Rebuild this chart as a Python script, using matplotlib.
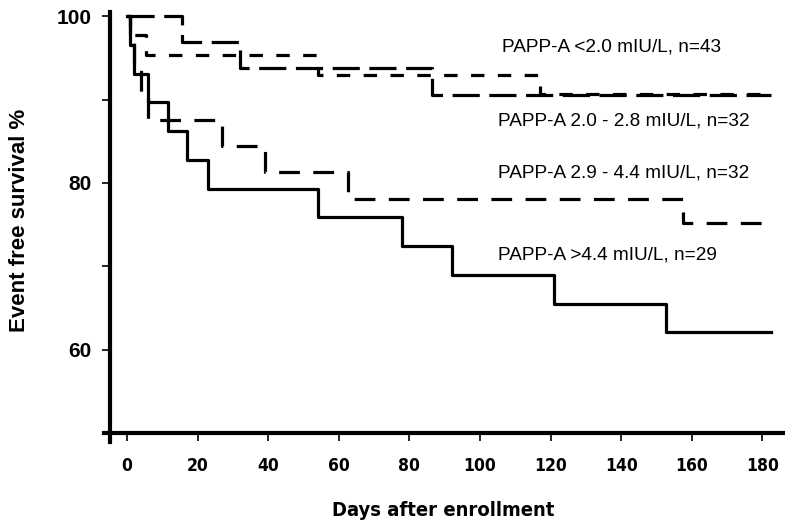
import matplotlib
matplotlib.use("Agg")
import matplotlib.pyplot as plt
from matplotlib import font_manager as fm

# ---- data ----
t_lt20 = [0, 1, 5.5, 54, 117, 182.4]
s_lt20 = [100, 97.7, 95.35, 93.0, 90.7, 90.7]

t_20_28 = [0, 15.6, 32, 86.5, 182.4]
s_20_28 = [100, 96.9, 93.75, 90.6, 90.6]

t_29_44 = [0, 1, 2, 4, 6, 27, 39, 62.5, 157.5, 182.4]
s_29_44 = [100, 96.9, 93.75, 90.6, 87.5, 84.4, 81.25, 78.1, 75.2, 75.2]

t_gt44 = [0, 1, 2, 6, 11.6, 17, 23, 54, 78, 92, 121, 152.7, 182.4]
s_gt44 = [100, 96.55, 93.1, 89.66, 86.2, 82.8, 79.3, 75.9, 72.4, 69.0, 65.5, 62.1, 62.1]

labels = ["PAPP-A <2.0 mIU/L, n=43",
          "PAPP-A 2.0 - 2.8 mIU/L, n=32",
          "PAPP-A 2.9 - 4.4 mIU/L, n=32",
          "PAPP-A >4.4 mIU/L, n=29"]

x_ticks = [0, 20, 40, 60, 80, 100, 120, 140, 160, 180]
y_ticks = [60, 80, 100]
y_minor = [50, 70, 90]

# condensed bold font if one is installed
cond_fp = fm.FontProperties(family="DejaVu Sans", stretch="condensed", weight="bold")
cond_file = fm.findfont(cond_fp)
is_cond = "Condensed" in cond_file
if is_cond:
    x_font = dict(family="DejaVu Sans", fontstretch="condensed", fontweight="bold", fontsize=12.5)
else:
    x_font = dict(family="Liberation Sans", fontweight="bold", fontsize=12.5)

W, H = 785, 524
fig = plt.figure(figsize=(W / 100, H / 100), dpi=100)
ax = fig.add_axes([110 / W, 1 - 433 / H, (W - 110) / W, (433 - 12) / H])

lw = 2.3
ax.step(t_lt20, s_lt20, where="post", color="black", lw=lw,
        linestyle=(0, (4.2, 4.2)), clip_on=False)
ax.step(t_20_28, s_20_28, where="post", color="black", lw=lw,
        linestyle=(0, (8.5, 3)), clip_on=False)
ax.step(t_29_44, s_29_44, where="post", color="black", lw=lw,
        linestyle=(0, (6.5, 4.2)), clip_on=False)
ax.step(t_gt44, s_gt44, where="post", color="black", lw=lw,
        linestyle="-", clip_on=False)

ax.set_xlim(-4.8, 186.4)
ax.set_ylim(50, 100.5)

for s in ["top", "right"]:
    ax.spines[s].set_visible(False)
for s in ["left", "bottom"]:
    ax.spines[s].set_linewidth(3.0)
ax.spines["left"].set_bounds(48.9, 100.5)
ax.spines["bottom"].set_bounds(-6.5, 186.4)

ax.set_xticks(x_ticks)
ax.set_yticks(y_ticks)
ax.set_yticks(y_minor, minor=True)
ax.tick_params(axis="both", which="both", direction="out", length=6, width=1.2)
ax.tick_params(axis="y", which="major", pad=7)
ax.tick_params(axis="x", which="major", pad=11)

for lab in ax.get_yticklabels():
    lab.set_fontfamily("Liberation Sans")
    lab.set_fontweight("bold")
    lab.set_fontsize(15)
for lab in ax.get_xticklabels():
    lab.update(x_font)

fig.text(20 / W, 1 - 220 / H, "Event free survival %", rotation=90,
         ha="center", va="center", fontsize=16, fontweight="bold",
         family="Liberation Sans")
xl = dict(x_font)
xl["fontsize"] = 14.5
fig.text(443 / W, 1 - 510 / H, "Days after enrollment", ha="center",
         va="center", **xl)

label_pos = [(502, 52), (498, 126), (498, 177), (498, 260)]
for (px, py), txt in zip(label_pos, labels):
    fig.text(px / W, 1 - py / H, txt, ha="left", va="baseline",
             fontsize=13.7, family="Liberation Sans")

fig.savefig("out.png", dpi=100)
